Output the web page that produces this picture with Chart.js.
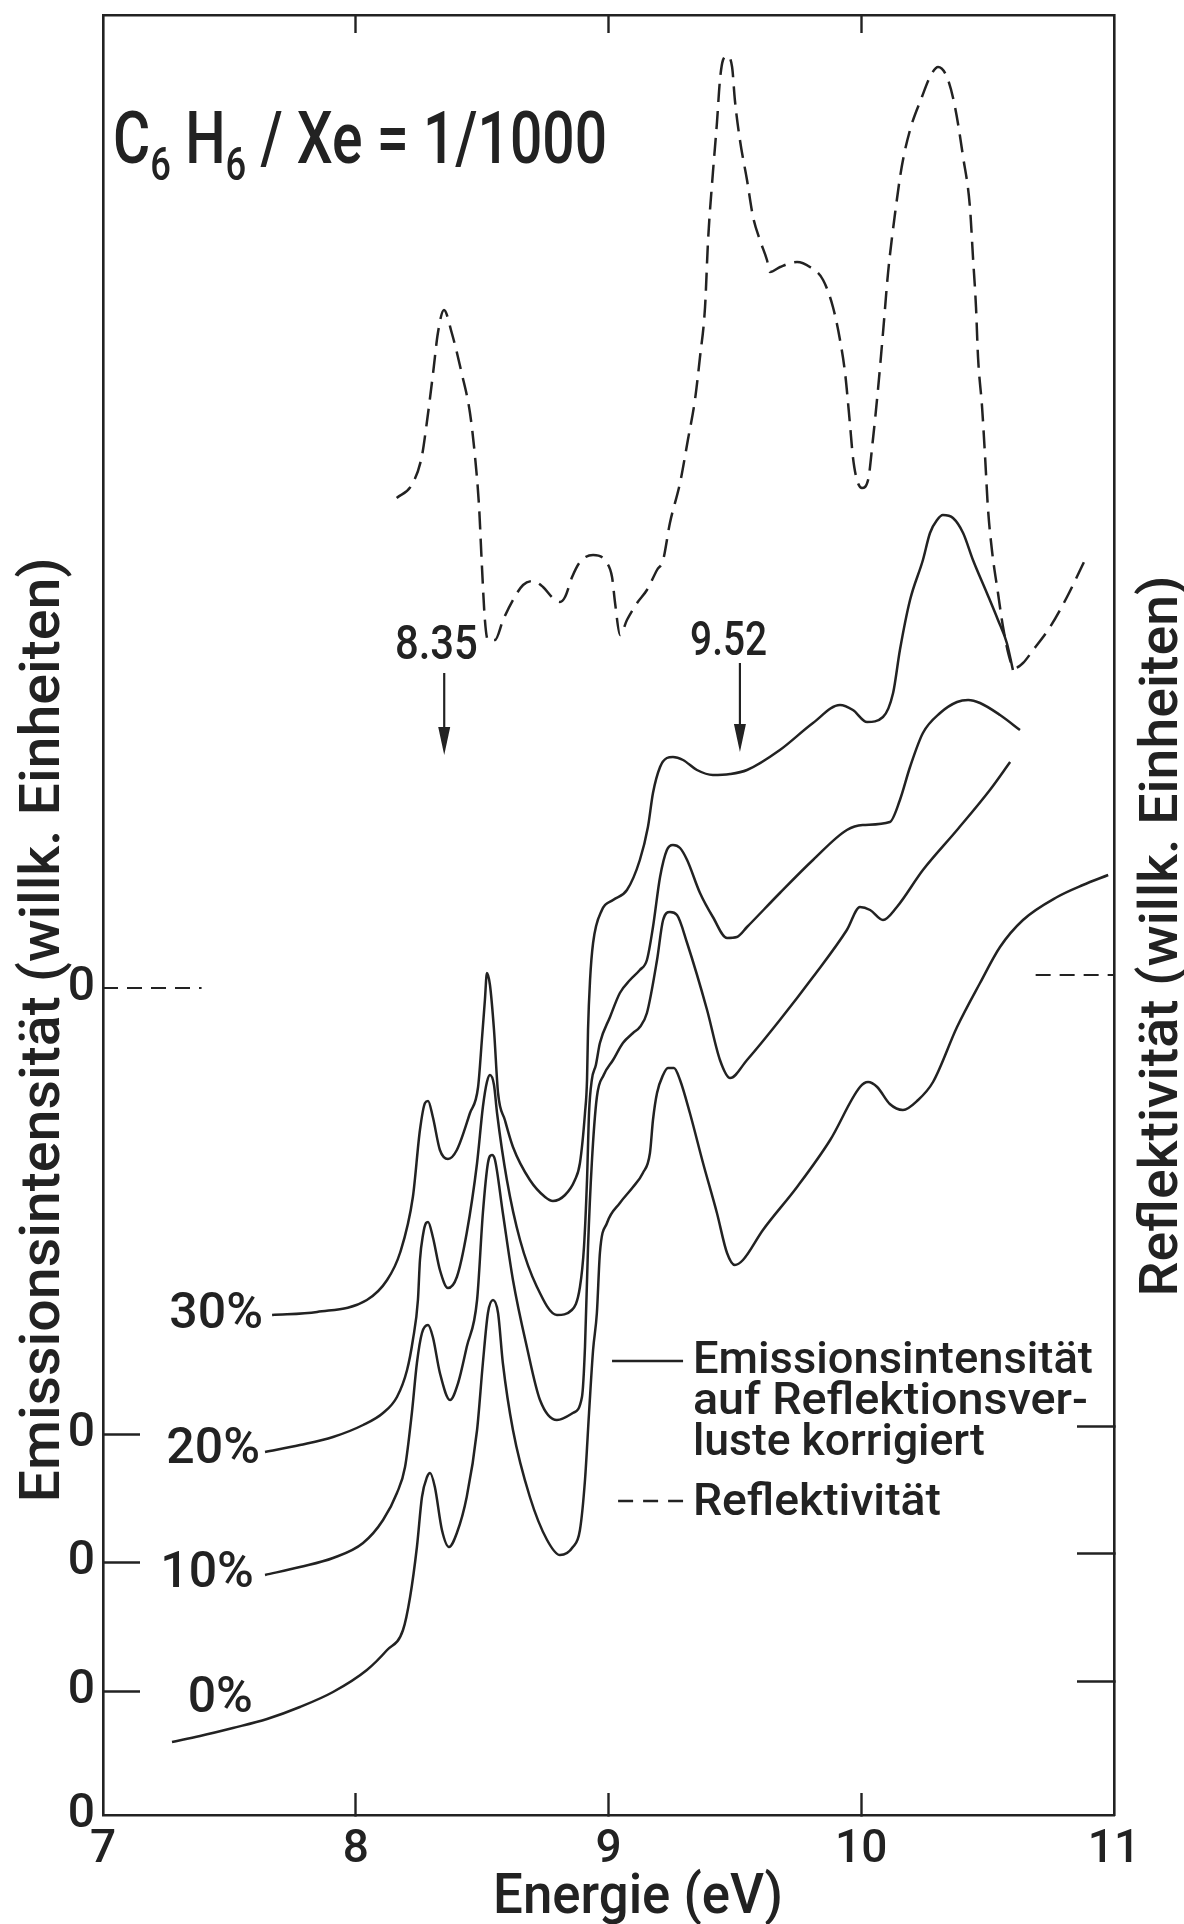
<!DOCTYPE html>
<html>
<head>
<meta charset="utf-8">
<script src="https://cdn.jsdelivr.net/npm/chart.js@4/dist/chart.umd.min.js"></script>
<style>
  html, body { margin: 0; padding: 0; background: #fff; }
</style>
</head>
<body>
<canvas id="spectrum" width="1184" height="1924"></canvas>
<script>
// DATA -----------------------------------------------------------------------
// [energy (eV), intensity (arbitrary units, offset per curve)]

const emission30 = [[7.669,5.00],[7.847,5.03],[8.044,5.15],[8.124,5.35],[8.175,5.62],[8.226,6.18],[8.254,6.85],[8.274,7.12],[8.286,7.14],[8.305,6.98],[8.333,6.65],[8.365,6.56],[8.400,6.65],[8.452,7.02],[8.484,7.28],[8.499,7.75],[8.511,8.15],[8.519,8.42],[8.531,8.30],[8.547,7.85],[8.563,7.22],[8.590,6.95],[8.622,6.68],[8.689,6.35],[8.749,6.18],[8.780,6.14],[8.828,6.20],[8.867,6.35],[8.887,6.52],[8.907,7.02],[8.915,7.35],[8.919,7.85],[8.927,8.35],[8.939,8.72],[8.974,9.05],[9.018,9.15],[9.073,9.25],[9.124,9.55],[9.156,9.88],[9.176,10.22],[9.204,10.48],[9.231,10.57],[9.255,10.58],[9.295,10.55],[9.350,10.45],[9.413,10.40],[9.481,10.41],[9.548,10.45],[9.678,10.65],[9.809,10.92],[9.916,11.10],[9.967,11.05],[10.023,10.93],[10.086,10.98],[10.126,11.22],[10.153,11.65],[10.193,12.15],[10.244,12.55],[10.272,12.82],[10.300,12.95],[10.323,13.00],[10.363,12.97],[10.403,12.82],[10.442,12.55],[10.497,12.22],[10.541,11.95],[10.576,11.72],[10.600,11.45]]

const emission20 = [[7.641,3.63],[7.779,3.70],[7.910,3.78],[8.029,3.90],[8.108,4.02],[8.163,4.18],[8.203,4.45],[8.226,4.75],[8.246,5.15],[8.254,5.55],[8.266,5.80],[8.278,5.92],[8.286,5.93],[8.305,5.78],[8.333,5.45],[8.365,5.27],[8.400,5.38],[8.439,5.82],[8.480,6.52],[8.503,7.08],[8.519,7.33],[8.531,7.40],[8.547,7.30],[8.559,7.02],[8.598,6.35],[8.650,5.75],[8.717,5.28],[8.796,5.00],[8.855,5.05],[8.887,5.28],[8.903,5.68],[8.915,6.35],[8.923,7.02],[8.934,7.35],[8.950,7.50],[8.966,7.72],[9.006,7.98],[9.045,8.22],[9.085,8.35],[9.124,8.45],[9.152,8.55],[9.176,8.88],[9.204,9.38],[9.231,9.65],[9.255,9.70],[9.283,9.67],[9.311,9.55],[9.362,9.22],[9.413,8.98],[9.469,8.77],[9.508,8.78],[9.548,8.88],[9.678,9.22],[9.809,9.55],[9.943,9.85],[10.006,9.90],[10.113,9.93],[10.153,10.15],[10.193,10.48],[10.244,10.82],[10.312,11.02],[10.379,11.13],[10.423,11.15],[10.470,11.12],[10.549,11.00],[10.628,10.85]]

const emission10 = [[7.641,2.40],[7.779,2.48],[7.910,2.57],[8.029,2.72],[8.108,2.95],[8.163,3.22],[8.195,3.48],[8.222,4.02],[8.242,4.52],[8.262,4.82],[8.286,4.90],[8.305,4.78],[8.333,4.42],[8.373,4.15],[8.405,4.32],[8.439,4.68],[8.480,5.15],[8.503,6.02],[8.523,6.52],[8.539,6.60],[8.551,6.55],[8.582,6.02],[8.622,5.35],[8.677,4.68],[8.729,4.15],[8.796,3.95],[8.859,4.02],[8.895,4.18],[8.907,4.68],[8.919,5.68],[8.934,6.52],[8.954,7.18],[8.981,7.40],[9.018,7.55],[9.057,7.72],[9.097,7.82],[9.124,7.88],[9.152,8.02],[9.192,8.55],[9.216,8.95],[9.243,9.03],[9.271,9.00],[9.311,8.72],[9.390,8.05],[9.441,7.55],[9.481,7.37],[9.548,7.55],[9.678,7.95],[9.809,8.38],[9.943,8.85],[9.995,9.08],[10.035,9.05],[10.086,8.95],[10.141,9.08],[10.244,9.45],[10.379,9.85],[10.509,10.25],[10.589,10.53]]

const emission0 = [[7.273,0.73],[7.384,0.79],[7.514,0.87],[7.649,0.96],[7.779,1.08],[7.910,1.23],[8.044,1.45],[8.124,1.65],[8.187,1.85],[8.215,2.18],[8.242,2.68],[8.262,3.18],[8.282,3.38],[8.294,3.42],[8.313,3.28],[8.341,2.85],[8.369,2.68],[8.400,2.82],[8.439,3.18],[8.480,3.85],[8.503,4.52],[8.523,5.02],[8.543,5.15],[8.563,5.02],[8.582,4.52],[8.622,3.85],[8.689,3.18],[8.757,2.75],[8.808,2.60],[8.859,2.68],[8.887,2.85],[8.907,3.35],[8.923,4.02],[8.939,4.65],[8.954,5.02],[8.966,5.62],[8.994,5.92],[9.045,6.12],[9.097,6.28],[9.136,6.42],[9.164,6.62],[9.176,6.95],[9.192,7.22],[9.216,7.40],[9.235,7.47],[9.259,7.47],[9.283,7.35],[9.322,7.02],[9.374,6.52],[9.429,6.02],[9.469,5.62],[9.500,5.50],[9.532,5.55],[9.611,5.85],[9.746,6.28],[9.877,6.75],[9.995,7.28],[10.027,7.33],[10.063,7.28],[10.113,7.11],[10.165,7.05],[10.225,7.15],[10.284,7.33],[10.379,7.88],[10.470,8.32],[10.549,8.68],[10.640,8.95],[10.775,9.18],[10.877,9.30],[10.977,9.40]]

const reflectivity = [[8.162,13.17],[8.221,13.30],[8.261,13.58],[8.281,13.92],[8.306,14.42],[8.325,14.82],[8.349,15.05],[8.380,14.82],[8.419,14.42],[8.452,14.02],[8.472,13.58],[8.488,13.08],[8.498,12.55],[8.511,11.95],[8.523,11.75],[8.551,11.75],[8.583,11.95],[8.622,12.15],[8.662,12.30],[8.701,12.34],[8.741,12.28],[8.780,12.17],[8.808,12.13],[8.828,12.18],[8.856,12.38],[8.887,12.53],[8.939,12.60],[8.994,12.52],[9.014,12.38],[9.026,12.12],[9.046,11.80],[9.073,11.95],[9.113,12.12],[9.152,12.25],[9.192,12.45],[9.216,12.55],[9.243,12.92],[9.283,13.32],[9.314,13.75],[9.342,14.15],[9.362,14.58],[9.382,15.08],[9.394,15.75],[9.413,16.42],[9.429,16.92],[9.441,17.35],[9.453,17.55],[9.469,17.59],[9.489,17.48],[9.500,17.15],[9.520,16.75],[9.548,16.35],[9.572,15.98],[9.599,15.75],[9.627,15.55],[9.639,15.43],[9.679,15.48],[9.746,15.53],[9.797,15.48],[9.849,15.35],[9.888,15.08],[9.916,14.75],[9.936,14.42],[9.955,13.92],[9.967,13.58],[9.983,13.35],[10.003,13.27],[10.027,13.35],[10.046,13.75],[10.066,14.25],[10.086,14.82],[10.106,15.42],[10.134,16.02],[10.160,16.48],[10.193,16.85],[10.240,17.18],[10.272,17.38],[10.304,17.48],[10.339,17.38],[10.371,17.08],[10.403,16.58],[10.430,16.08],[10.442,15.58],[10.454,15.08],[10.462,14.58],[10.478,14.08],[10.490,13.58],[10.501,13.08],[10.517,12.65],[10.541,12.22],[10.561,11.88],[10.589,11.55],[10.608,11.47],[10.640,11.52],[10.680,11.65],[10.747,11.88],[10.814,12.18],[10.885,12.55]]

// zero lines of the dashed curves (left: emission 30 %, right: reflectivity)
const zeroMarkLeft = [[7.0, 8.27], [7.39, 8.27]]
const zeroMarkRight = [[10.69, 8.40], [11.0, 8.40]]

// axis ticks
const energyTicks = [7, 8, 9, 10, 11]
const innerEnergyTicks = [8, 9, 10]
const leftZeroTicks = [0, 1.24, 2.53, 3.81, 8.27]
const rightZeroTicks = [1.34, 2.62, 3.89]

// curve labels: [text, energy of right edge, intensity of baseline]
const curveLabels = [['30%', 7.633, 4.87], ['20%', 7.621, 3.52], ['10%', 7.597, 2.28], ['0%', 7.593, 1.03]]
// marked energies: [label, energy]
const markedEnergies = [['8.35', 8.35], ['9.52', 9.52]]

// SETTINGS -------------------------------------------------------------------

const INK = '#222'
const FONT = 'Roboto, "Noto Sans", sans-serif'
const WEIGHT = 500
Chart.defaults.font.family = FONT
Chart.defaults.color = INK

// HELPER FUNCTIONS -----------------------------------------------------------

function toPoints(pairs) {
    return pairs.map(([x, y]) => ({x, y}))
}

function curveDataset(label, pairs, dash) {
    return {
        label: label,
        data: toPoints(pairs),
        borderColor: INK,
        borderWidth: 2.5,
        borderDash: dash || [],
        pointRadius: 0,
        cubicInterpolationMode: 'monotone',
        fill: false
    }
}

function zeroMarkDataset(pairs) {
    return {
        label: 'zero',
        data: toPoints(pairs),
        borderColor: INK,
        borderWidth: 2.2,
        borderDash: [15, 9],
        pointRadius: 0,
        tension: 0
    }
}

// text squeezed/stretched to a given width (width = null keeps natural width)
function fitText(ctx, text, x, y, size, width, align = 'left', angle = 0) {
    ctx.save()
    ctx.font = `${WEIGHT} ${size}px ${FONT}`
    const natural = ctx.measureText(text).width
    ctx.translate(x, y)
    if (angle) ctx.rotate(angle)
    ctx.scale(width ? width / natural : 1, 1)
    ctx.textAlign = align
    ctx.textBaseline = 'alphabetic'
    ctx.fillText(text, 0, 0)
    ctx.restore()
}

function drawFormula(ctx, x0, base, width) {
    const runs = [['C', 72, 0], ['6', 46, 17], [' H', 72, 0], ['6', 46, 17], [' / Xe = 1/1000', 72, 0]]
    let total = 0
    runs.forEach(r => {
        ctx.font = `${WEIGHT} ${r[1]}px ${FONT}`
        r.w = ctx.measureText(r[0]).width
        total += r.w
    })
    ctx.save()
    ctx.translate(x0, base)
    ctx.scale(width / total, 1)
    let cx = 0
    runs.forEach(r => {
        ctx.font = `${WEIGHT} ${r[1]}px ${FONT}`
        ctx.fillText(r[0], cx, r[2])
        cx += r.w
    })
    ctx.restore()
}

function drawArrow(ctx, x, yFrom, yTo) {
    ctx.beginPath()
    ctx.moveTo(x, yFrom)
    ctx.lineTo(x, yTo - 20)
    ctx.stroke()
    ctx.beginPath()
    ctx.moveTo(x - 6, yTo - 28)
    ctx.lineTo(x + 6, yTo - 28)
    ctx.lineTo(x, yTo)
    ctx.closePath()
    ctx.fill()
}

// ANNOTATIONS ----------------------------------------------------------------

const whiteBackground = {
    id: 'whiteBackground',
    beforeDraw(chart) {
        const {ctx, width, height} = chart
        ctx.save()
        ctx.fillStyle = '#fff'
        ctx.fillRect(0, 0, width, height)
        ctx.restore()
    }
}

const annotations = {
    id: 'annotations',
    afterDraw(chart) {
        const {ctx, chartArea, scales: {x, y}} = chart
        ctx.save()
        ctx.fillStyle = INK
        ctx.strokeStyle = INK
        ctx.lineWidth = 2.2

        drawFormula(ctx, x.getPixelForValue(7.04), y.getPixelForValue(16.52), 494)

        // marked energies with arrows
        fitText(ctx, markedEnergies[0][0], x.getPixelForValue(8.319), y.getPixelForValue(11.56), 48, 83, 'center')
        fitText(ctx, markedEnergies[1][0], x.getPixelForValue(9.475), y.getPixelForValue(11.60), 48, 77, 'center')
        drawArrow(ctx, x.getPixelForValue(markedEnergies[0][1]), y.getPixelForValue(11.42), y.getPixelForValue(10.60))
        drawArrow(ctx, x.getPixelForValue(markedEnergies[1][1]), y.getPixelForValue(11.52), y.getPixelForValue(10.63))

        // curve labels
        curveLabels.forEach(([t, e, v]) => fitText(ctx, t, x.getPixelForValue(e), y.getPixelForValue(v), 50, null, 'right'))

        // legend
        const lx = x.getPixelForValue(9.334)
        ctx.lineWidth = 2.5
        ctx.beginPath()
        ctx.moveTo(x.getPixelForValue(9.014), y.getPixelForValue(4.54))
        ctx.lineTo(x.getPixelForValue(9.295), y.getPixelForValue(4.54))
        ctx.stroke()
        ctx.setLineDash([15, 10])
        ctx.beginPath()
        ctx.moveTo(x.getPixelForValue(9.038), y.getPixelForValue(3.14))
        ctx.lineTo(x.getPixelForValue(9.295), y.getPixelForValue(3.14))
        ctx.stroke()
        ctx.setLineDash([])
        fitText(ctx, 'Emissionsintensität', lx, y.getPixelForValue(4.42), 45, 400)
        fitText(ctx, 'auf Reflektionsver-', lx, y.getPixelForValue(4.01), 45, 395)
        fitText(ctx, 'luste korrigiert', lx, y.getPixelForValue(3.60), 45, 292)
        fitText(ctx, 'Reflektivität', lx, y.getPixelForValue(3.00), 45, 248)

        // axis titles
        fitText(ctx, 'Energie (eV)', x.getPixelForValue(9.117), chartArea.bottom + 98, 56, 290, 'center')
        fitText(ctx, 'Emissionsintensität (willk. Einheiten)', chartArea.left - 44, y.getPixelForValue(7.85), 56, 945, 'center', -Math.PI / 2)
        fitText(ctx, 'Reflektivität (willk. Einheiten)', chartArea.right + 63, y.getPixelForValue(8.79), 54, 721, 'center', -Math.PI / 2)
        ctx.restore()
    }
}

// CHART ----------------------------------------------------------------------

function fixedTicks(values) {
    return (scale) => { scale.ticks = values.map(v => ({value: v})) }
}

function noPadding(scale) {
    scale.paddingLeft = 0
    scale.paddingRight = 0
    scale.paddingTop = 0
    scale.paddingBottom = 0
}

const border = {display: true, color: INK, width: 2.6}

new Chart(document.getElementById('spectrum'), {
    type: 'line',
    data: {
        datasets: [
            curveDataset('30%', emission30),
            curveDataset('20%', emission20),
            curveDataset('10%', emission10),
            curveDataset('0%', emission0),
            curveDataset('Reflektivität', reflectivity, [18, 9]),
            zeroMarkDataset(zeroMarkLeft),
            zeroMarkDataset(zeroMarkRight)
        ]
    },
    options: {
        responsive: false,
        animation: false,
        events: [],
        layout: {padding: 0},
        plugins: {
            legend: {display: false},
            tooltip: {enabled: false}
        },
        scales: {
            x: {
                type: 'linear',
                position: 'bottom',
                min: 7,
                max: 11,
                afterBuildTicks: fixedTicks(energyTicks),
                afterFit: (s) => { s.height = 109; noPadding(s) },
                ticks: {padding: 30, font: {size: 46, weight: WEIGHT}, color: INK, autoSkip: false, maxRotation: 0, callback: (v) => String(v)},
                grid: {
                    drawOnChartArea: false,
                    tickLength: -22,
                    tickWidth: 2.4,
                    tickColor: (c) => (c.tick && innerEnergyTicks.includes(c.tick.value)) ? INK : 'rgba(0,0,0,0)'
                },
                border: border
            },
            xTop: {
                type: 'linear',
                position: 'top',
                min: 7,
                max: 11,
                afterBuildTicks: fixedTicks(innerEnergyTicks),
                afterFit: (s) => { s.height = 15; noPadding(s) },
                ticks: {display: false},
                grid: {drawOnChartArea: false, tickLength: -18, tickWidth: 2.4, tickColor: INK},
                border: border
            },
            y: {
                type: 'linear',
                position: 'left',
                min: 0,
                max: 18,
                afterBuildTicks: fixedTicks(leftZeroTicks),
                afterFit: (s) => { s.width = 103; noPadding(s) },
                ticks: {padding: 45, font: {size: 48, weight: WEIGHT}, color: INK, autoSkip: false, callback: () => '0'},
                grid: {
                    drawOnChartArea: false,
                    tickLength: -37,
                    tickWidth: 2.4,
                    tickColor: (c) => (c.tick && c.tick.value > 0 && c.tick.value < 8) ? INK : 'rgba(0,0,0,0)'
                },
                border: border
            },
            yRight: {
                type: 'linear',
                position: 'right',
                min: 0,
                max: 18,
                afterBuildTicks: fixedTicks(rightZeroTicks),
                afterFit: (s) => { s.width = 70; noPadding(s) },
                ticks: {display: false},
                grid: {drawOnChartArea: false, tickLength: -37, tickWidth: 2.4, tickColor: INK},
                border: border
            }
        }
    },
    plugins: [whiteBackground, annotations]
})
</script>
</body>
</html>
